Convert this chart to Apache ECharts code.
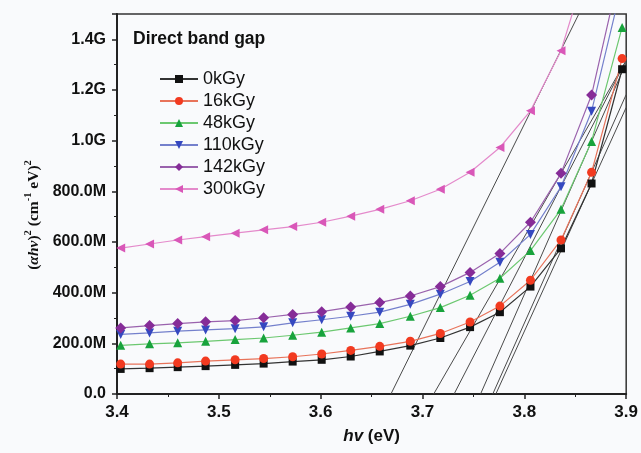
<!DOCTYPE html>
<html>
<head>
<meta charset="utf-8">
<script src="https://cdn.jsdelivr.net/npm/echarts@6/dist/echarts.min.js"></script>
<style>
html, body { margin: 0; padding: 0; background: #f9fafc; }
#container { width: 641px; height: 453px; }
</style>
</head>
<body>
<div id="container"></div>
<script>
// photon energy hv (eV)
var energy = [3.4036, 3.432, 3.4596, 3.487, 3.516, 3.544, 3.5725, 3.601, 3.6295,
    3.658, 3.688, 3.7175, 3.7467, 3.776, 3.806, 3.836, 3.866, 3.896];

// (ahv)^2 in M units, one array per dose
var dose0 = [99, 102, 106, 110, 115, 120, 128, 135, 148, 168, 191, 221, 264, 323, 424, 575, 831, 1282];
var dose16 = [118, 118, 123, 130, 135, 140, 147, 158, 172, 188, 208, 239, 284, 347, 449, 608, 875, 1324];
var dose48 = [192, 198, 202, 208, 215, 221, 232, 244, 261, 278, 307, 341, 390, 457, 566, 729, 997, 1447];
var dose110 = [235, 241, 248, 253, 258, 265, 281, 293, 307, 323, 354, 394, 444, 520, 630, 818, 1116, 1620];
var dose142 = [261, 270, 278, 285, 290, 301, 314, 325, 343, 361, 387, 424, 480, 555, 678, 871, 1180, 1710];
var dose300 = [576, 592, 608, 621, 635, 648, 661, 678, 702, 729, 763, 808, 875, 973, 1118, 1355, 1750, 2200];

var doseNames = ['0kGy', '16kGy', '48kGy', '110kGy', '142kGy', '300kGy'];
var doseData = [dose0, dose16, dose48, dose110, dose142, dose300];

// tangent lines: x-intercept and upper end point
var tangentStart = [3.772, 3.769, 3.757, 3.731, 3.711, 3.669];
var tangentEndX = [3.9, 3.9, 3.9, 3.9, 3.9, 3.8535];
var tangentEndY = [1131, 1182, 1308, 1317, 1317, 1500];

var xTicks = [3.4, 3.5, 3.6, 3.7, 3.8, 3.9];

var markColors = ['#111111', '#f23a20', '#18a33c', '#3548c0', '#862c98', '#d957b8'];
var lineColors = ['#333333', '#e8735a', '#6cc870', '#7480cc', '#9a62ad', '#e48acb'];
var symbols = ['rect', 'circle', 'triangle', 'triangle', 'diamond', 'triangle'];
var rotates = [0, 0, 0, 180, 0, 90];
var sizes = [8, 9, 9, 9, 11, 9];

var dom = document.getElementById("container");
var myChart = echarts.init(dom);
var option = null;

var series = [];
for (var k = 0; k < tangentStart.length; k++) {
    series.push({
        name: 'tangent' + k,
        type: 'line',
        silent: true,
        symbol: 'none',
        z: 1,
        lineStyle: { color: '#4a4a4a', width: 1 },
        data: [[tangentStart[k], 0], [tangentEndX[k], tangentEndY[k]]]
    });
}
for (var i = 0; i < doseNames.length; i++) {
    var pts = [];
    for (var j = 0; j < energy.length; j++) {
        pts.push([energy[j], doseData[i][j]]);
    }
    series.push({
        name: doseNames[i],
        type: 'line',
        data: pts,
        z: 3,
        symbol: symbols[i],
        symbolSize: sizes[i],
        symbolRotate: rotates[i],
        showAllSymbol: true,
        itemStyle: { color: markColors[i] },
        lineStyle: { color: lineColors[i], width: 1.2 }
    });
}

option = {
    animation: false,
    backgroundColor: '#f9fafc',
    title: {
        text: 'Direct band gap',
        left: 128,
        top: 25,
        textStyle: { fontFamily: 'Liberation Sans', fontWeight: 'bold', fontSize: 17.5, color: '#111' }
    },
    legend: {
        data: doseNames,
        orient: 'vertical',
        left: 159,
        top: 70,
        padding: 0,
        itemWidth: 38,
        itemHeight: 10,
        itemGap: 4,
        textStyle: { fontFamily: 'Liberation Sans', fontSize: 18, color: '#111' }
    },
    grid: {
        left: 117,
        right: 13,
        top: 14,
        bottom: 59,
        show: true,
        borderColor: '#333',
        borderWidth: 1.5,
        backgroundColor: 'transparent'
    },
    xAxis: {
        type: 'value',
        min: 3.4,
        max: 3.9,
        interval: 0.1,
        name: '{i|hv}{n| (eV)}',
        nameLocation: 'middle',
        nameGap: 34,
        nameTextStyle: {
            rich: {
                i: { fontFamily: 'Liberation Sans', fontStyle: 'italic', fontWeight: 'bold', fontSize: 17, color: '#111' },
                n: { fontFamily: 'Liberation Sans', fontWeight: 'bold', fontSize: 17, color: '#111' }
            }
        },
        axisLine: { lineStyle: { color: '#222', width: 2 } },
        axisTick: { inside: false, length: 5, lineStyle: { color: '#222', width: 1.5 } },
        minorTick: { show: true, splitNumber: 2, length: 3, lineStyle: { color: '#222' } },
        splitLine: { show: false },
        axisLabel: {
            margin: 10,
            fontFamily: 'Liberation Sans', fontWeight: 'bold', fontSize: 17, color: '#111',
            formatter: function (v) {
                for (var t = 0; t < xTicks.length; t++) {
                    if (Math.abs(v - xTicks[t]) < 1e-6) return xTicks[t].toFixed(1);
                }
                return '';
            }
        }
    },
    yAxis: {
        type: 'value',
        min: 0,
        max: 1500,
        interval: 200,
        name: '{p|(}{i|αhν}{p|)}{s|2}{p| (cm}{s|-1}{p| eV)}{s|2}',
        nameLocation: 'middle',
        nameGap: 71,
        nameTextStyle: {
            padding: [0, 22, 0, 0],
            rich: {
                p: { fontFamily: 'Liberation Serif', fontWeight: 'bold', fontSize: 15.5, color: '#111', lineHeight: 19, verticalAlign: 'bottom' },
                i: { fontFamily: 'Liberation Serif', fontStyle: 'italic', fontWeight: 'bold', fontSize: 15.5, color: '#111', lineHeight: 19, verticalAlign: 'bottom' },
                s: { fontFamily: 'Liberation Serif', fontWeight: 'bold', fontSize: 10.5, color: '#111', lineHeight: 19, verticalAlign: 'top' }
            }
        },
        axisLine: { show: true, lineStyle: { color: '#222', width: 2 } },
        axisTick: { inside: false, length: 5, lineStyle: { color: '#222', width: 1.5 } },
        minorTick: { show: true, splitNumber: 2, length: 3, lineStyle: { color: '#222' } },
        splitLine: { show: false },
        axisLabel: {
            margin: 11,
            showMaxLabel: false,
            fontFamily: 'Liberation Sans', fontWeight: 'bold', fontSize: 16, color: '#111',
            formatter: function (v) {
                if (v === 0) return '0.0';
                if (v >= 1000) return (v / 1000).toFixed(1) + 'G';
                return v.toFixed(1) + 'M';
            }
        }
    },
    series: series
};

if (option && typeof option === "object") {
    myChart.setOption(option, true);
}
</script>
</body>
</html>
